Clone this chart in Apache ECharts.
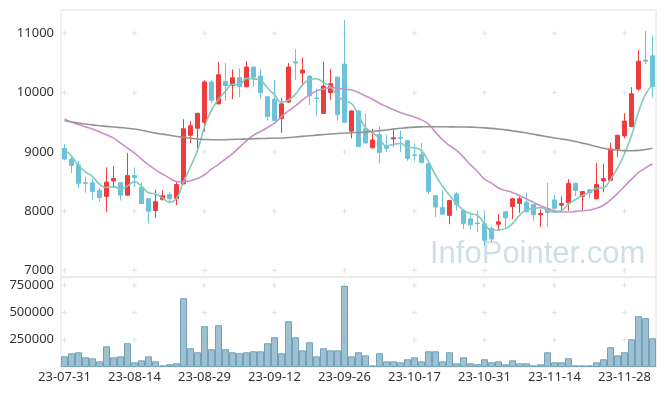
<!DOCTYPE html>
<html>
<head>
<meta charset="utf-8">
<script src="https://cdn.jsdelivr.net/npm/echarts@6/dist/echarts.min.js"></script>
<style>
html,body{margin:0;padding:0;background:#fff;}
#chart{width:665px;height:396px;}
</style>
</head>
<body>
<div id="chart"></div>
<script>
const dates = ['23-07-31','23-08-01','23-08-02','23-08-03','23-08-04','23-08-07','23-08-08','23-08-09','23-08-10','23-08-11',
'23-08-14','23-08-16','23-08-17','23-08-18','23-08-21','23-08-22','23-08-23','23-08-24','23-08-25','23-08-28',
'23-08-29','23-08-30','23-08-31','23-09-01','23-09-04','23-09-05','23-09-06','23-09-07','23-09-08','23-09-11',
'23-09-12','23-09-13','23-09-14','23-09-15','23-09-18','23-09-19','23-09-20','23-09-21','23-09-22','23-09-25',
'23-09-26','23-09-27','23-10-04','23-10-05','23-10-06','23-10-10','23-10-11','23-10-12','23-10-13','23-10-16',
'23-10-17','23-10-18','23-10-19','23-10-20','23-10-23','23-10-24','23-10-25','23-10-26','23-10-27','23-10-30',
'23-10-31','23-11-01','23-11-02','23-11-03','23-11-06','23-11-07','23-11-08','23-11-09','23-11-10','23-11-13',
'23-11-14','23-11-15','23-11-16','23-11-17','23-11-20','23-11-21','23-11-22','23-11-23','23-11-24','23-11-27',
'23-11-28','23-11-29','23-11-30','23-12-01','23-12-04'];

const openP = [9060,8880,8780,8480,8480,8350,8250,8510,8480,8270,
8600,8400,8210,8010,8200,8280,8210,8460,9280,9400,
9500,10180,9810,10190,10120,10250,10100,10430,10280,9930,
9890,9560,9840,10520,10330,10280,9910,9650,10000,10260,
10480,9350,9690,9390,9070,9290,9110,9220,9240,9190,
8950,8960,8800,8260,8060,7930,8290,8010,7870,7800,
7790,7710,7780,7990,8080,8130,8150,8110,7940,8040,
8190,8100,8140,8470,8250,8360,8210,8510,8520,9050,
9270,9430,10060,10550,10620];

const closeP = [8880,8770,8470,8470,8330,8230,8490,8550,8270,8600,
8570,8130,8000,8160,8260,8210,8450,9390,9440,9650,
10180,9870,10300,10120,10250,10100,10430,10260,10000,9600,
9530,9810,10430,10500,10380,9950,9900,10110,10150,9630,
9500,9690,9090,9150,9200,8990,9060,9240,9230,8890,
8940,8820,8330,8070,7950,8180,8110,7790,7770,7790,
7510,7530,7820,7890,8210,8210,7990,7940,7960,7980,
8050,8130,8470,8350,8330,8310,8450,8550,9050,9280,
9520,9980,10530,10530,10100];

const lowP = [8860,8640,8390,8310,8190,8160,7990,8390,8180,8260,
8410,8120,7800,7890,8180,8140,8100,8450,9150,9000,
9340,9820,9800,9860,9890,9920,10090,10100,9900,9530,
9520,9320,9830,10210,10120,9790,9600,9640,9880,9530,
9490,9230,9080,9140,9060,8810,9000,9090,9000,8850,
8840,8810,8290,7900,7940,7780,8010,7700,7700,7650,
7410,7480,7670,7720,7870,7970,7980,7840,7730,7740,
8040,8010,8010,8250,8000,8220,8200,8320,8510,8910,
9230,9420,10030,10480,9920];

const highP = [9130,8930,8850,8580,8550,8390,8740,8760,8490,8980,
8740,8490,8220,8360,8350,8320,8500,9550,9520,9660,
10210,10210,10520,10500,10390,10410,10530,10440,10390,9940,
10210,9910,10500,10730,10590,10290,10070,10520,10400,10270,
11220,9700,9700,9650,9390,9430,9290,9400,9360,9200,
9140,9150,8810,8270,8350,8190,8320,8020,7970,8000,
7990,7740,7950,8000,8210,8250,8310,8120,8030,8480,
8270,8250,8540,8480,8340,8370,8810,8800,9150,9290,
9650,10090,10720,11040,10960];

const volume = [98000,126000,135000,89000,80000,52000,190000,89000,98000,218000,
43000,61000,98000,52000,15000,25000,34000,631000,172000,135000,
374000,163000,383000,163000,135000,126000,135000,144000,144000,218000,
273000,126000,420000,273000,153000,227000,98000,172000,153000,153000,
744000,98000,135000,107000,15000,126000,52000,52000,43000,71000,
89000,52000,144000,144000,52000,135000,34000,89000,34000,25000,
71000,43000,52000,25000,61000,34000,34000,15000,25000,135000,
43000,43000,80000,15000,15000,15000,43000,71000,181000,107000,
135000,255000,466000,448000,264000];

const ma5 = [9040,8930,8770,8660,8585,8455,8399,8415,8374,8427,
8494,8422,8312,8291,8224,8152,8215,8494,8749,9027,
9420,9704,9886,10022,10141,10126,10240,10232,10208,10078,
9963,9839,9873,9973,10131,10215,10233,10169,10098,9948,
9857,9815,9611,9411,9326,9225,9098,9127,9142,9080,
9069,9021,8839,8608,8420,8267,8127,8019,7959,7927,
7794,7677,7684,7706,7790,7930,8022,8044,8060,8014,
7984,8012,8120,8197,8267,8318,8381,8395,8535,8726,
8969,9276,9673,9970,10133];

const ma20 = [9557,9502,9461,9422,9384,9338,9288,9232,9148,9064,
8980,8878,8782,8698,8626,8558,8501,8496,8513,8552,
8614,8710,8790,8880,8970,9080,9185,9280,9343,9411,
9485,9596,9692,9776,9877,9961,10029,10062,10084,10074,
10057,10045,10000,9944,9889,9821,9764,9709,9663,9624,
9586,9540,9468,9333,9204,9108,9024,8912,8782,8670,
8542,8474,8390,8350,8316,8260,8205,8148,8092,8047,
8008,7986,7986,7996,8008,8020,8050,8100,8190,8300,
8420,8540,8650,8730,8800];

const ma60 = [9525,9505,9488,9470,9455,9440,9430,9420,9410,9400,
9385,9365,9340,9316,9300,9280,9260,9248,9232,9218,
9210,9205,9204,9206,9210,9214,9218,9222,9225,9228,
9230,9234,9242,9252,9262,9272,9282,9292,9302,9310,
9318,9324,9328,9334,9345,9358,9370,9385,9398,9410,
9418,9422,9424,9424,9424,9422,9421,9420,9418,9412,
9405,9396,9385,9372,9355,9338,9320,9298,9275,9255,
9235,9218,9200,9175,9148,9120,9090,9062,9042,9030,
9022,9020,9025,9040,9062];

const priceTicks = [7000, 8000, 9000, 10000, 11000];
const volumeTicks = [250000, 500000, 750000];
const labelDates = dates.filter((d, i) => i % 10 === 0);

const UP = '#ee3b3b', DOWN = '#6cc2d9';
const LABEL_FONT = {color: '#333', fontSize: 13, fontFamily: '"Noto Sans", sans-serif'};

const candleData = dates.map((d, i) => [openP[i], closeP[i], lowP[i], highP[i]]);
const plusPrice = [];
labelDates.forEach(d => priceTicks.forEach(v => plusPrice.push([d, v])));
const plusVol = [];
labelDates.forEach(d => volumeTicks.forEach(v => plusVol.push([d, v])));
const plusSymbol = 'path://M2 0H3V2H5V3H3V5H2V3H0V2H2Z';

const chart = echarts.init(document.getElementById('chart'), null, {renderer: 'canvas'});
chart.setOption({
  animation: false,
  backgroundColor: '#fff',
  grid: [
    {left: 61, right: 9, top: 10, height: 267, show: true, borderColor: '#e3e3e3', borderWidth: 1, backgroundColor: 'transparent'},
    {left: 61, right: 9, top: 277, height: 90, show: true, borderColor: '#e3e3e3', borderWidth: 1, backgroundColor: 'transparent'}
  ],
  xAxis: [
    {type: 'category', gridIndex: 0, data: dates, boundaryGap: true,
     axisLine: {show: false}, axisTick: {show: false}, axisLabel: {show: false}, splitLine: {show: false}},
    {type: 'category', gridIndex: 1, data: dates, boundaryGap: true,
     axisLine: {show: false}, axisTick: {show: false}, splitLine: {show: false},
     axisLabel: Object.assign({interval: 9, margin: 4}, LABEL_FONT)}
  ],
  yAxis: [
    {type: 'value', gridIndex: 0, min: 6890, max: 11393, splitNumber: 5,
     axisLine: {show: false}, axisTick: {show: false}, splitLine: {show: false},
     axisLabel: Object.assign({margin: 7, showMinLabel: false, showMaxLabel: false,
       formatter: v => priceTicks.indexOf(v) >= 0 ? String(v) : ''}, LABEL_FONT)},
    {type: 'value', gridIndex: 1, min: 0, max: 826000, interval: 250000,
     axisLine: {show: false}, axisTick: {show: false}, splitLine: {show: false},
     axisLabel: Object.assign({margin: 7, showMinLabel: false, showMaxLabel: false,
       formatter: v => volumeTicks.indexOf(v) >= 0 ? String(v) : ''}, LABEL_FONT)}
  ],
  graphic: [{
    type: 'text', left: 430, top: 239, z: 0, silent: true,
    style: {text: 'InfoPointer.com', fill: '#cfdfe8', font: '31px "Liberation Sans", Arial, sans-serif'}
  }],
  series: [
    {type: 'scatter', xAxisIndex: 0, yAxisIndex: 0, data: plusPrice, symbol: plusSymbol, symbolSize: 5,
     itemStyle: {color: '#dcdcdc'}, silent: true, z: 1},
    {type: 'scatter', xAxisIndex: 1, yAxisIndex: 1, data: plusVol, symbol: plusSymbol, symbolSize: 5,
     itemStyle: {color: '#dcdcdc'}, silent: true, z: 1},
    {type: 'candlestick', xAxisIndex: 0, yAxisIndex: 0, data: candleData, barWidth: 4,
     itemStyle: {color: UP, color0: DOWN, borderColor: UP, borderColor0: DOWN, borderWidth: 1}},
    {type: 'line', xAxisIndex: 0, yAxisIndex: 0, data: ma5, smooth: true, showSymbol: false,
     lineStyle: {color: '#82c9bf', width: 1.6}},
    {type: 'line', xAxisIndex: 0, yAxisIndex: 0, data: ma20, smooth: true, showSymbol: false,
     lineStyle: {color: '#cb90c8', width: 1.6}},
    {type: 'line', xAxisIndex: 0, yAxisIndex: 0, data: ma60, smooth: true, showSymbol: false,
     lineStyle: {color: '#939393', width: 1.6}},
    {type: 'bar', xAxisIndex: 1, yAxisIndex: 1, data: volume, barCategoryGap: '0%',
     itemStyle: {color: 'rgba(132,178,199,0.8)', borderColor: '#72a1b8', borderWidth: 1}}
  ]
});
</script>
</body>
</html>
